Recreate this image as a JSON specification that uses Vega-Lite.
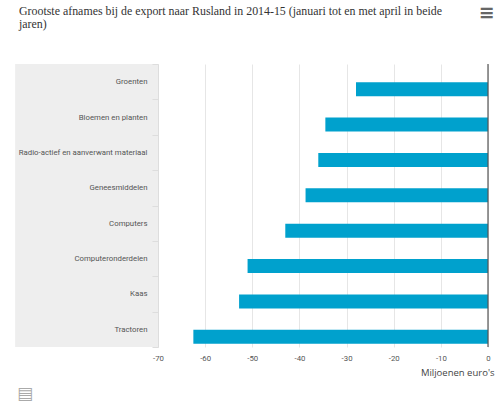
{
  "$schema": "https://vega.github.io/schema/vega-lite/v6.json",
  "description": "Grootste afnames bij de export naar Rusland",
  "autosize": "none",
  "width": 330,
  "height": 283,
  "padding": {"left": 158, "top": 64, "right": 14, "bottom": 63},
  "background": "white",
  "title": {
    "text": ["Grootste afnames bij de export naar Rusland in 2014-15 (januari tot en met april in beide", "jaren)"],
    "font": "Liberation Serif",
    "fontSize": 11.9,
    "fontWeight": "normal",
    "color": "#333333",
    "anchor": "start",
    "frame": "group",
    "dx": -139,
    "offset": -27.5,
    "lineHeight": 13
  },
  "config": {
    "view": {"stroke": null},
    "axis": {"labelFont": "Roboto", "labelFontSize": 7.8, "labelColor": "#555555"}
  },
  "layer": [
    {
      "data": {"values": [{"van": -100.3, "tot": -70}]},
      "mark": {"type": "rect", "color": "#eeeeee", "clip": false},
      "encoding": {
        "x": {"field": "van", "type": "quantitative"},
        "x2": {"field": "tot"}
      }
    },
    {
      "data": {"values": [
        {"product": "Groenten", "waarde": -28},
        {"product": "Bloemen en planten", "waarde": -34.5},
        {"product": "Radio-actief en aanverwant materiaal", "waarde": -36},
        {"product": "Geneesmiddelen", "waarde": -38.7},
        {"product": "Computers", "waarde": -43},
        {"product": "Computeronderdelen", "waarde": -51},
        {"product": "Kaas", "waarde": -52.8},
        {"product": "Tractoren", "waarde": -62.5}
      ]},
      "mark": {"type": "bar", "color": "#00a1cd", "height": 14, "yOffset": 7.5},
      "encoding": {
        "x": {
          "field": "waarde",
          "type": "quantitative",
          "scale": {"domain": [-70, 0], "nice": false},
          "axis": {
            "values": [-70, -60, -50, -40, -30, -20, -10, 0],
            "format": "d",
            "labelExpr": "replace(datum.label, '−', '-')",
            "labelFlush": false,
            "title": "Miljoenen euro's",
            "titleFont": "Open Sans",
            "titleFontSize": 9.5,
            "titleFontWeight": "normal",
            "titleColor": "#444444",
            "titleAnchor": "end",
            "titleAlign": "right",
            "titleBaseline": "middle",
            "titleX": 336,
            "titleY": 25,
            "domain": false,
            "ticks": false,
            "labelPadding": 11,
            "labelBaseline": "middle",
            "grid": true,
            "gridColor": "#e6e6e6",
            "gridWidth": 1
          }
        },
        "y": {
          "field": "product",
          "type": "nominal",
          "sort": null,
          "scale": {"paddingInner": 0, "paddingOuter": 0},
          "axis": {
            "title": null,
            "zindex": 1,
            "labelLimit": 150,
            "labelPadding": 5,
            "tickBand": "extent",
            "tickSize": 6,
            "tickColor": "#dddddd",
            "domainColor": "#dddddd"
          }
        }
      }
    },
    {
      "data": {"values": [{"nul": 0}]},
      "mark": {"type": "rule", "color": "#555555", "strokeWidth": 1.2},
      "encoding": {"x": {"field": "nul", "type": "quantitative"}}
    },
    {
      "data": {"values": [{"x": -0.3, "product": "Groenten", "icoon": "≡"}]},
      "mark": {"type": "text", "font": "DejaVu Sans", "fontSize": 19, "fontWeight": "bold", "color": "#666666", "align": "center", "baseline": "middle", "yOffset": -69, "clip": false},
      "encoding": {
        "x": {"field": "x", "type": "quantitative"},
        "y": {"field": "product", "type": "nominal", "sort": null},
        "text": {"field": "icoon"}
      }
    },
    {
      "data": {"values": [{"x": -98.2, "product": "Tractoren", "icoon": "▤"}]},
      "mark": {"type": "text", "font": "DejaVu Sans", "fontSize": 17, "color": "#aaaaaa", "align": "center", "baseline": "middle", "yOffset": 65, "clip": false},
      "encoding": {
        "x": {"field": "x", "type": "quantitative"},
        "y": {"field": "product", "type": "nominal", "sort": null},
        "text": {"field": "icoon"}
      }
    }
  ]
}
